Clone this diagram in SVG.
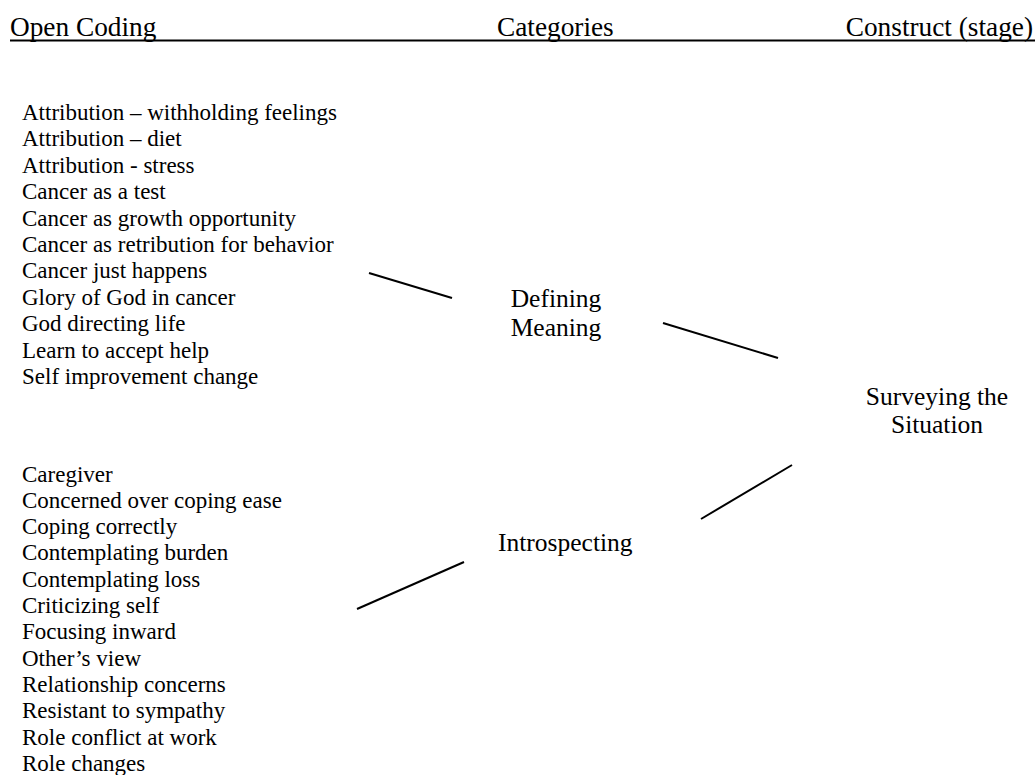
<svg xmlns="http://www.w3.org/2000/svg" width="1035" height="775" viewBox="0 0 1035 775" font-family="'Liberation Serif', 'Times New Roman', Times, 'DejaVu Serif', serif">
<style>
text{font-family:'Liberation Serif','Times New Roman',Times,'DejaVu Serif',serif;fill:#000}
.h{font-size:27.3px}
.l{font-size:23px}
.c{font-size:25.5px}
.e{stroke:#000;stroke-width:2;fill:none}
</style>
<rect width="1035" height="775" fill="#fff"/>
<g id="header">
<text class="h" x="10" y="36">Open Coding</text>
<text class="h" x="497" y="36">Categories</text>
<text class="h" x="1033" y="36" text-anchor="end">Construct (stage)</text>
<line x1="10" y1="40.5" x2="1035" y2="40.5" stroke="#000" stroke-width="2"/>
</g>
<g id="codes-meaning">
<text class="l" x="22" y="120">Attribution – withholding feelings</text>
<text class="l" x="22" y="146.4">Attribution – diet</text>
<text class="l" x="22" y="172.8">Attribution - stress</text>
<text class="l" x="22" y="199.2">Cancer as a test</text>
<text class="l" x="22" y="225.6">Cancer as growth opportunity</text>
<text class="l" x="22" y="252">Cancer as retribution for behavior</text>
<text class="l" x="22" y="278.4">Cancer just happens</text>
<text class="l" x="22" y="304.8">Glory of God in cancer</text>
<text class="l" x="22" y="331.2">God directing life</text>
<text class="l" x="22" y="357.6">Learn to accept help</text>
<text class="l" x="22" y="384">Self improvement change</text>
</g>
<g id="codes-introspecting">
<text class="l" x="22" y="481.5">Caregiver</text>
<text class="l" x="22" y="507.8">Concerned over coping ease</text>
<text class="l" x="22" y="534.1">Coping correctly</text>
<text class="l" x="22" y="560.4">Contemplating burden</text>
<text class="l" x="22" y="586.7">Contemplating loss</text>
<text class="l" x="22" y="613">Criticizing self</text>
<text class="l" x="22" y="639.3">Focusing inward</text>
<text class="l" x="22" y="665.6">Other’s view</text>
<text class="l" x="22" y="691.9">Relationship concerns</text>
<text class="l" x="22" y="718.2">Resistant to sympathy</text>
<text class="l" x="22" y="744.5">Role conflict at work</text>
<text class="l" x="22" y="770.8">Role changes</text>
</g>
<g id="defining-meaning">
<text class="c" x="556" y="306.5" text-anchor="middle">Defining</text>
<text class="c" x="556" y="335.5" text-anchor="middle">Meaning</text>
</g>
<g id="introspecting">
<text class="c" x="498" y="551">Introspecting</text>
</g>
<g id="surveying">
<text class="c" x="937" y="404.5" text-anchor="middle">Surveying the</text>
<text class="c" x="937" y="433" text-anchor="middle">Situation</text>
</g>
<g id="connectors">
<line class="e" x1="369" y1="273" x2="452" y2="298"/>
<line class="e" x1="663" y1="323" x2="778" y2="358"/>
<line class="e" x1="357" y1="609" x2="464" y2="562"/>
<line class="e" x1="701" y1="519" x2="792" y2="465"/>
</g>
</svg>
